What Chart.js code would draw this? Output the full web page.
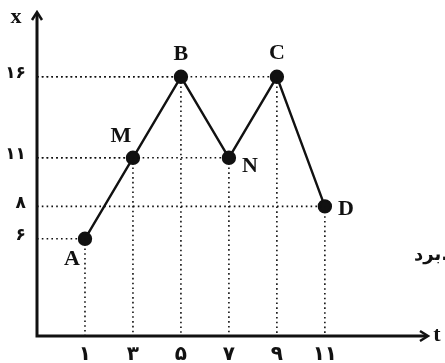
<!DOCTYPE html>
<html lang="fa">
<head>
<meta charset="UTF-8">
<title>x-t</title>
<script src="https://cdn.jsdelivr.net/npm/chart.js"></script>
<style>
    body { margin: 0; padding: 0; background: #fff; }
    .wrap { width: 445px; height: 363px; position: relative; }
</style>
</head>
<body>
<div class="wrap"><canvas id="xt"></canvas></div>
<script>
    // data
    const times = [1, 3, 5, 7, 9, 11];
    const positions = [6, 11, 16, 11, 16, 8];
    const pointNames = ['A', 'M', 'B', 'N', 'C', 'D'];
    const xTicks = [1, 3, 5, 7, 9, 11];
    const yTicks = [6, 8, 11, 16];
    const faDigits = ['۰', '۱', '۲', '۳', '۴', '۵', '۶', '۷', '۸', '۹'];

    function toFa(n) {
        return String(n).split('').map(d => faDigits[+d] || d).join('');
    }

    const pts = times.map((t, i) => ({ x: t, y: positions[i] }));

    // dotted guide lines: from y axis to point, then down to t axis
    const guides = pts.map(p => ({
        data: [{ x: -1, y: p.y }, { x: p.x, y: p.y }, { x: p.x, y: 0 }],
        borderColor: '#111',
        borderWidth: 1.6,
        borderDash: [1.6, 3.2],
        pointRadius: 0,
        fill: false,
        tension: 0
    }));

    // where each letter sits relative to its point (px)
    const labelOffsets = [[-13, 21], [-12, -21], [0, -22], [21, 9], [0, -23], [21, 3]];

    const decor = {
        id: 'decor',
        afterDatasetsDraw(chart) {
            const c = chart.ctx, a = chart.chartArea;
            const sx = chart.scales.x, sy = chart.scales.y;
            c.save();
            c.strokeStyle = '#111';
            c.fillStyle = '#111';
            c.lineWidth = 3;
            // axes
            c.beginPath();
            c.moveTo(a.left, a.top + 2);
            c.lineTo(a.left, a.bottom);
            c.lineTo(a.right - 2, a.bottom);
            c.stroke();
            // arrow heads
            c.lineWidth = 2.5;
            c.beginPath();
            c.moveTo(a.left - 5, a.top + 8);
            c.lineTo(a.left, a.top);
            c.lineTo(a.left + 5, a.top + 8);
            c.moveTo(a.right - 8, a.bottom - 5);
            c.lineTo(a.right, a.bottom);
            c.lineTo(a.right - 8, a.bottom + 5);
            c.stroke();
            // t tick labels, placed on the x scale's ticks
            c.font = 'bold 20px "DejaVu Sans", sans-serif';
            c.textAlign = 'center';
            c.textBaseline = 'top';
            sx.ticks.forEach(tk => {
                c.fillText(toFa(tk.value), sx.getPixelForValue(tk.value), a.bottom + 9);
            });
            // axis names
            c.font = 'bold 22px "Liberation Serif", serif';
            c.textBaseline = 'middle';
            c.fillText('x', a.left - 21, a.top + 5);
            c.fillText('t', a.right + 9, a.bottom - 1);
            // point names
            pts.forEach((p, i) => {
                const px = sx.getPixelForValue(p.x), py = sy.getPixelForValue(p.y);
                c.fillText(pointNames[i], px + labelOffsets[i][0], py + labelOffsets[i][1]);
            });
            // cut-off text at the right edge
            c.font = 'bold 18px "DejaVu Sans", sans-serif';
            c.textAlign = 'right';
            c.fillText('برد.', 448, 255);
            c.restore();
        }
    };

    new Chart(document.getElementById('xt'), {
        type: 'line',
        data: {
            datasets: [...guides, {
                data: pts,
                borderColor: '#111',
                borderWidth: 2.4,
                pointRadius: 6,
                pointBackgroundColor: '#111',
                pointBorderColor: '#111',
                fill: false,
                tension: 0
            }]
        },
        options: {
            responsive: true,
            maintainAspectRatio: false,
            animation: false,
            layout: { padding: { top: 12, right: 17, left: 0, bottom: 0 } },
            plugins: { legend: { display: false }, tooltip: { enabled: false } },
            scales: {
                x: {
                    type: 'linear',
                    min: -1,
                    max: 15.3,
                    afterFit: s => { s.height = 27; s.paddingLeft = 0; s.paddingRight = 0; },
                    afterBuildTicks: s => { s.ticks = xTicks.map(v => ({ value: v })); },
                    grid: { display: false, drawTicks: false },
                    border: { display: false },
                    ticks: { display: false }
                },
                y: {
                    type: 'linear',
                    min: 0,
                    max: 20,
                    afterFit: s => { s.width = 37; s.paddingTop = 0; s.paddingBottom = 0; },
                    afterBuildTicks: s => { s.ticks = yTicks.map(v => ({ value: v })); },
                    grid: { display: false, drawTicks: false },
                    border: { display: false },
                    ticks: {
                        padding: 11,
                        labelOffset: -3,
                        color: '#111',
                        font: { family: 'DejaVu Sans', size: 17, weight: 'bold' },
                        callback: v => toFa(v)
                    }
                }
            }
        },
        plugins: [decor]
    });
</script>
</body>
</html>
